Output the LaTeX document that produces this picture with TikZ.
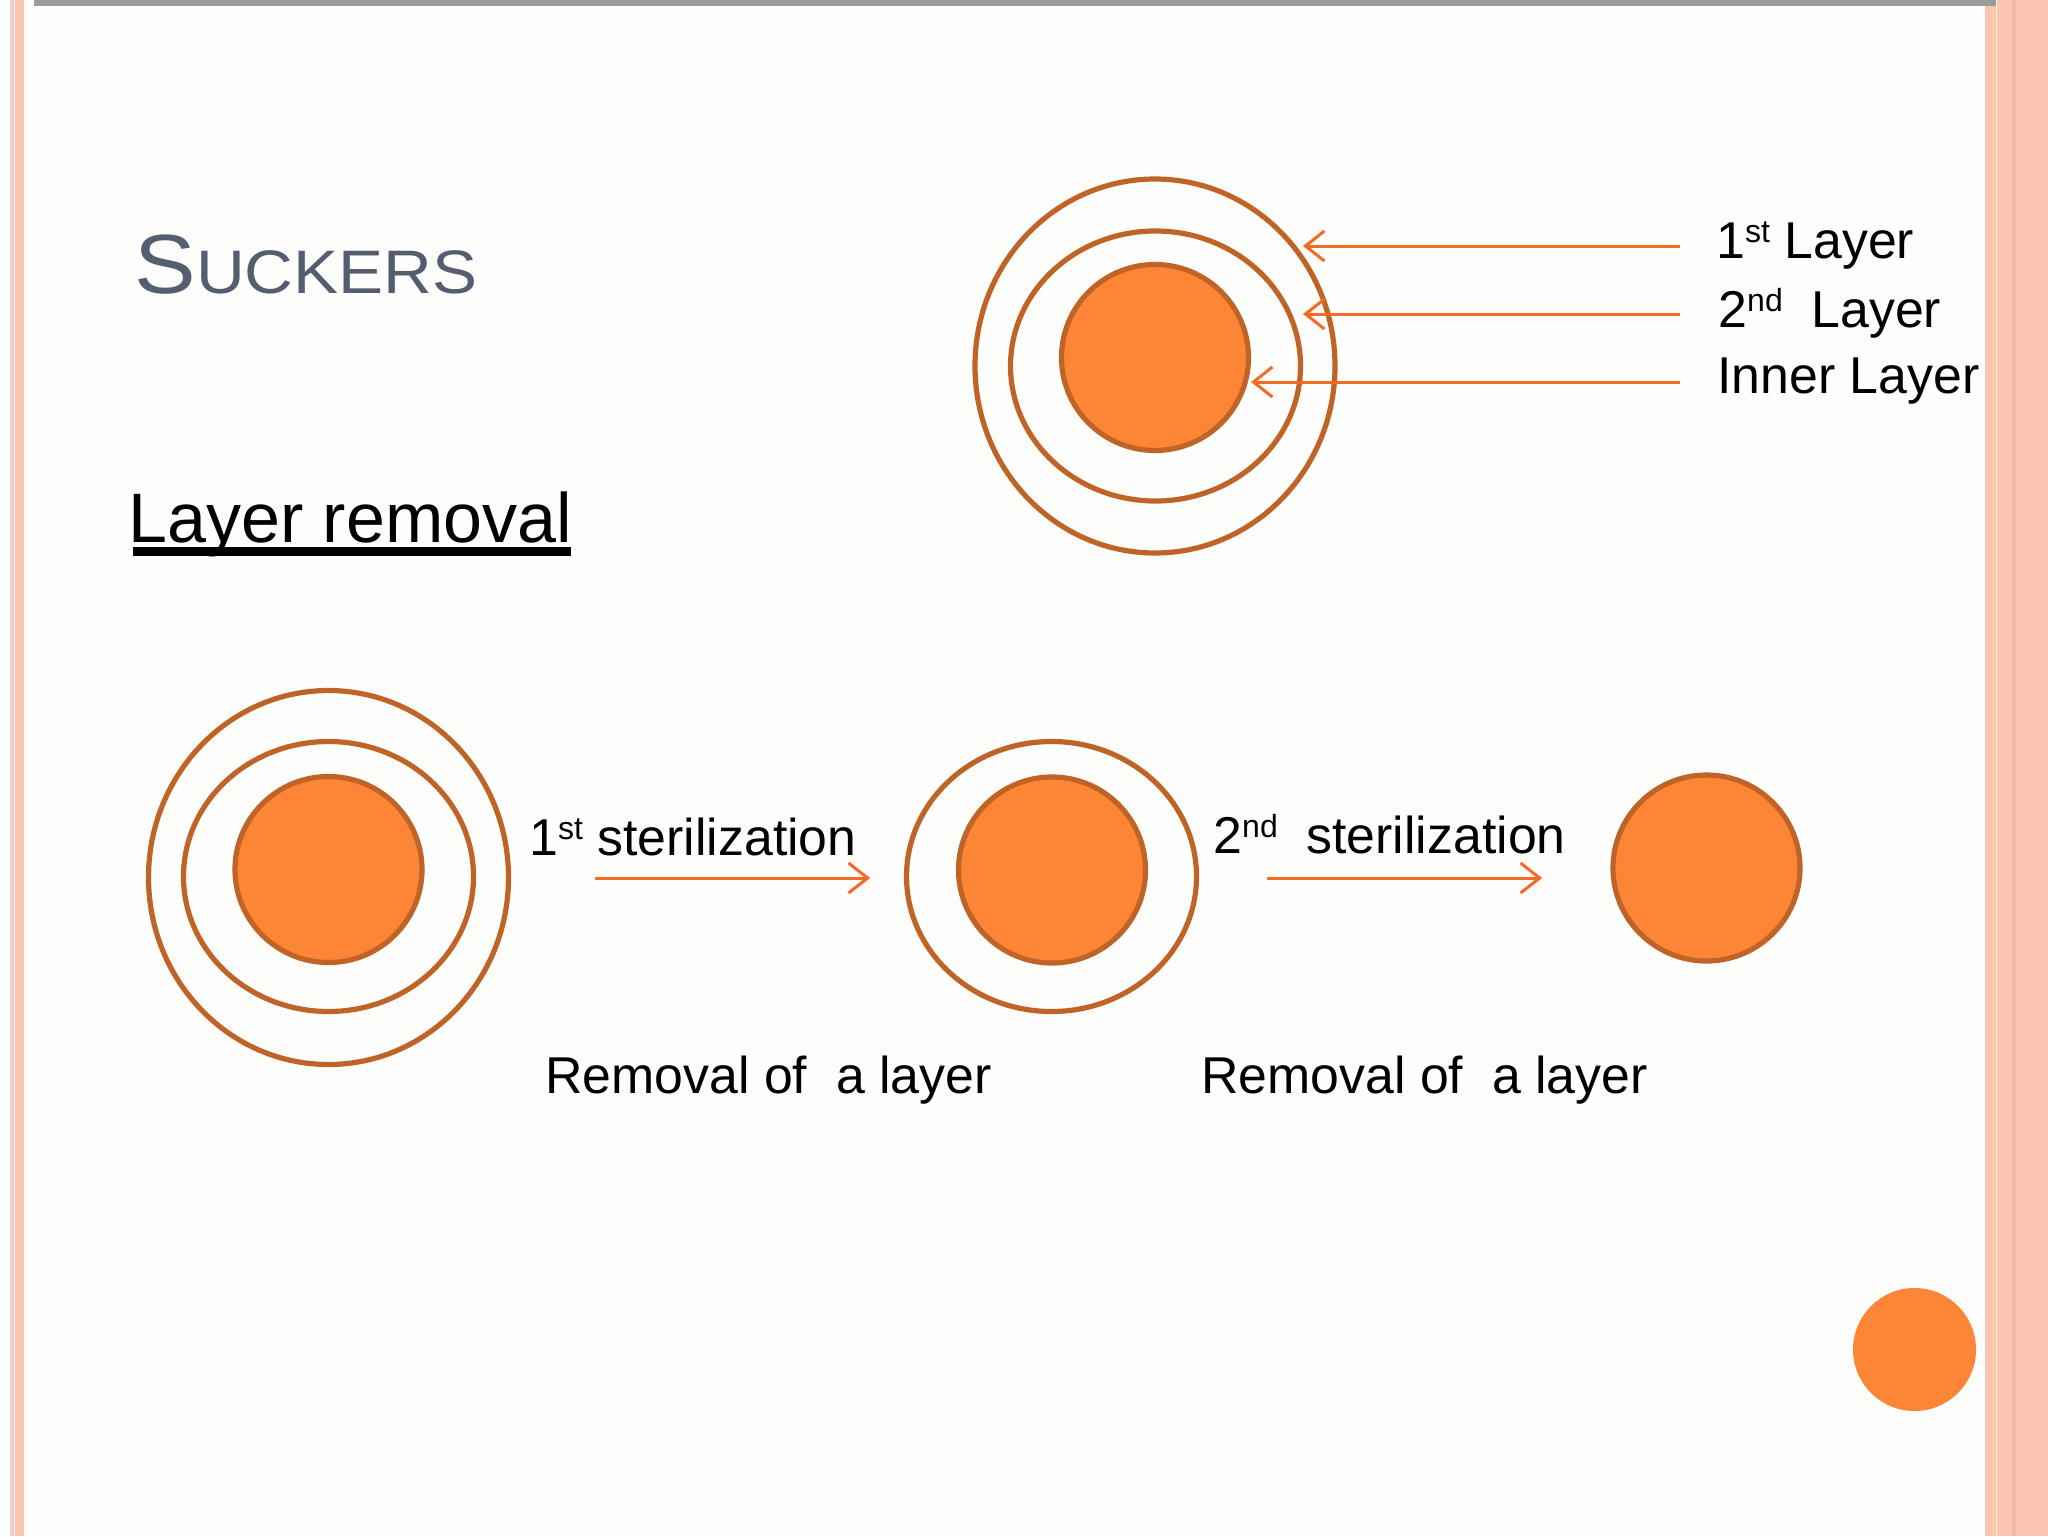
\documentclass[tikz,border=0pt]{standalone}
\usepackage{fontspec}
\setmainfont{Liberation Sans}
\usepackage{graphicx}
\usetikzlibrary{shapes.geometric,arrows.meta}
\definecolor{fillor}{RGB}{252,134,54}
\definecolor{ringbr}{RGB}{192,99,38}
\definecolor{arrowor}{RGB}{246,106,34}
\definecolor{salmon}{RGB}{250,198,178}
\definecolor{salmonlt}{RGB}{244,206,196}
\definecolor{salmondk}{RGB}{244,186,164}
\definecolor{creamln}{RGB}{255,240,222}
\definecolor{slate}{RGB}{84,94,112}
\definecolor{barg}{RGB}{155,156,154}
\definecolor{pagebg}{RGB}{253,253,251}
\newcommand{\supx}[1]{\raisebox{7.8pt}{\fontsize{16}{16}\selectfont #1}}
\begin{document}
\begin{tikzpicture}[x=0.5pt,y=-0.5pt,
  ring/.style={ellipse, draw=ringbr, line width=2.6pt, inner sep=0pt},
  outerring/.style={ring, minimum width=180pt, minimum height=187pt},
  midring/.style={ring, minimum width=145pt, minimum height=135pt},
  core/.style={ring, fill=fillor, minimum width=93.5pt, minimum height=93pt},
  lbl/.style={anchor=base west, inner sep=0pt, font=\fontsize{25.9}{30}\selectfont, text=black},
  pointer/.style={draw=arrowor, line width=1.5pt, -{Straight Barb[length=9.5pt,width=15pt]}}
]
% page and frame
\useasboundingbox (0,0) rectangle (2048,1536);
\fill[white] (0,0) rectangle (2048,1536);
\fill[pagebg] (24,6) rectangle (1985,1536);
\fill[salmonlt] (10,0) rectangle (14,1536);
\fill[salmon] (15,0) rectangle (24,1536);
\fill[salmon] (1985,0) rectangle (2048,1536);
\fill[salmondk] (2012,0) rectangle (2016,1536);
\fill[creamln] (1995.5,0) rectangle (1997,1536);
\fill[barg] (34,0) rectangle (1996,6);

% title and heading
\node[anchor=base west, inner sep=0pt, text=slate] (title) at (134,293)
  {\scalebox{1.1}[1]{\fontsize{42}{42}\selectfont S\fontsize{30.7}{31}\selectfont UCKERS}};
\node[anchor=base west, inner sep=0pt, font=\fontsize{35}{40}\selectfont] (heading) at (128,542) {Layer removal};
\fill[black] (133,547) rectangle (571,556);

% top diagram
\node[outerring] (o1) at (1155,366) {};
\node[midring] (m1) at (1155.5,366) {};
\node[core] (c1) at (1155,357.5) {};
\node[lbl] (l1) at (1716,258) {1\supx{st} Layer};
\node[lbl] (l2) at (1718,327) {2\supx{nd}\ \ Layer};
\node[lbl] (l3) at (1717,393) {Inner Layer};
\coordinate (t1) at (1680,246); \coordinate (h1) at (1303,246);
\coordinate (t2) at (1680,314); \coordinate (h2) at (1303,314);
\coordinate (t3) at (1680,382); \coordinate (h3) at (1251,382);
\draw[pointer] (t1) -- (h1);
\draw[pointer] (t2) -- (h2);
\draw[pointer] (t3) -- (h3);

% bottom row
\node[outerring] (oA) at (328.5,877.5) {};
\node[midring] (mA) at (328.5,876.5) {};
\node[core] (cA) at (328.5,869.5) {};
\node[midring] (mB) at (1051.5,876.5) {};
\node[core] (cB) at (1052,870) {};
\node[core] (cC) at (1706.5,868) {};

\node[lbl] (s1) at (529,855) {1\supx{st} sterilization};
\node[lbl] (s2) at (1213,853) {2\supx{nd}\ \ sterilization};
\coordinate (a1s) at (595,878); \coordinate (a1e) at (870,878);
\coordinate (a2s) at (1267,878); \coordinate (a2e) at (1542,878);
\draw[pointer] (a1s) -- (a1e);
\draw[pointer] (a2s) -- (a2e);

\node[lbl] (r1) at (545,1093) {Removal of\ \ a layer};
\node[lbl] (r2) at (1201,1093) {Removal of\ \ a layer};

% corner dot
\node[circle, fill=fillor, inner sep=0pt, minimum size=61.5pt] (dot) at (1914.5,1349.5) {};
\end{tikzpicture}
\end{document}
